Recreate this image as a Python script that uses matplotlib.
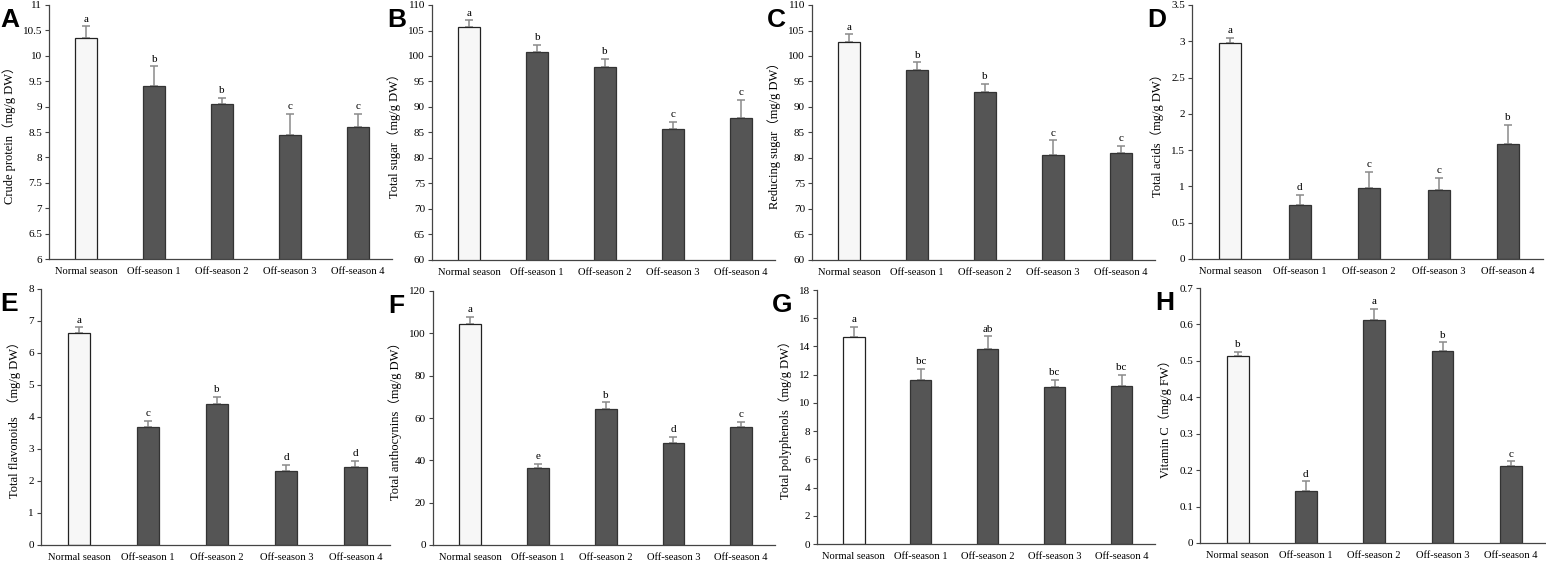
import matplotlib
matplotlib.use("Agg")
import matplotlib.pyplot as plt
import numpy as np

plt.rcParams["font.family"] = ["Liberation Serif", "Noto Sans CJK SC"]
plt.rcParams["axes.unicode_minus"] = False

categories = ["Normal season", "Off-season 1", "Off-season 2", "Off-season 3", "Off-season 4"]

crude_protein = [10.36, 9.41, 9.05, 8.44, 8.59]
crude_protein_err = [0.22, 0.38, 0.12, 0.42, 0.27]
crude_protein_sig = ["a", "b", "b", "c", "c"]

total_sugar = [105.6, 100.7, 97.8, 85.6, 87.9]
total_sugar_err = [1.4, 1.45, 1.65, 1.55, 3.5]
total_sugar_sig = ["a", "b", "b", "c", "c"]

reducing_sugar = [102.7, 97.25, 92.9, 80.65, 80.9]
reducing_sugar_err = [1.55, 1.5, 1.7, 2.8, 1.5]
reducing_sugar_sig = ["a", "b", "b", "c", "c"]

total_acids = [2.97, 0.74, 0.98, 0.95, 1.58]
total_acids_err = [0.08, 0.14, 0.22, 0.17, 0.27]
total_acids_sig = ["a", "d", "c", "c", "b"]

total_flavonoids = [6.63, 3.69, 4.41, 2.30, 2.44]
total_flavonoids_err = [0.17, 0.2, 0.22, 0.2, 0.19]
total_flavonoids_sig = ["a", "c", "b", "d", "d"]

total_anthocyanins = [104.6, 36.4, 64.25, 48.2, 55.75]
total_anthocyanins_err = [3.3, 1.9, 3.15, 2.8, 2.4]
total_anthocyanins_sig = ["a", "e", "b", "d", "c"]

total_polyphenols = [14.64, 11.65, 13.81, 11.13, 11.22]
total_polyphenols_err = [0.75, 0.75, 0.9, 0.52, 0.75]
total_polyphenols_sig = ["a", "bc", "ab", "bc", "bc"]

vitamin_c = [0.512, 0.144, 0.613, 0.527, 0.212]
vitamin_c_err = [0.013, 0.025, 0.03, 0.024, 0.012]
vitamin_c_sig = ["b", "d", "a", "b", "c"]

W, H = 1546, 565

# (letter, ylabel, values, errs, sig, ylim, ystep, axes box px: left, right, top, bottom, normal fill)
panels = [
    ("A", "Crude protein（mg/g DW）", crude_protein, crude_protein_err, crude_protein_sig,
     (6, 11), 0.5, (49, 392, 5, 259), "#f7f7f7"),
    ("B", "Total sugar（mg/g DW）", total_sugar, total_sugar_err, total_sugar_sig,
     (60, 110), 5, (432, 775, 5, 260), "#f7f7f7"),
    ("C", "Reducing sugar（mg/g DW）", reducing_sugar, reducing_sugar_err, reducing_sugar_sig,
     (60, 110), 5, (812, 1155, 5, 260), "#f7f7f7"),
    ("D", "Total acids（mg/g DW）", total_acids, total_acids_err, total_acids_sig,
     (0, 3.5), 0.5, (1192, 1543, 5, 259), "#f7f7f7"),
    ("E", "Total flavonoids  （mg/g DW）", total_flavonoids, total_flavonoids_err, total_flavonoids_sig,
     (0, 8), 1, (41, 390, 289, 545), "#f7f7f7"),
    ("F", "Total anthocynins（mg/g DW）", total_anthocyanins, total_anthocyanins_err, total_anthocyanins_sig,
     (0, 120), 20, (433, 775, 291, 545), "#f7f7f7"),
    ("G", "Total polyphenols（mg/g DW）", total_polyphenols, total_polyphenols_err, total_polyphenols_sig,
     (0, 18), 2, (817, 1155, 290, 544), "#ffffff"),
    ("H", "Vitamin C（mg/g FW）", vitamin_c, vitamin_c_err, vitamin_c_sig,
     (0, 0.7), 0.1, (1200, 1545, 288, 543), "#f7f7f7"),
]


def fmt_tick(v):
    return f"{v:.2f}".rstrip("0").rstrip(".")


def draw_panel(fig, letter, ylabel, values, errs, sig, ylim, ystep, box, normal_fill):
    left, right, top, bottom = box
    ax = fig.add_axes([left / W, 1 - bottom / H, (right - left) / W, (bottom - top) / H])
    x = np.arange(len(categories))
    colors = [normal_fill] + ["#555555"] * (len(categories) - 1)
    edges = ["#222222"] + ["#333333"] * (len(categories) - 1)
    ax.bar(x, values, width=0.32, color=colors, edgecolor=edges, linewidth=0.9, zorder=2)
    ax.errorbar(x, values, yerr=[np.zeros(len(values)), errs], fmt="none",
                ecolor="#8a8a8a", elinewidth=1.1, capsize=3, capthick=1.1, zorder=1)
    for xi, v, e, s in zip(x, values, errs, sig):
        ax.annotate(s, (xi, v + e), xytext=(0, 2), textcoords="offset points",
                    ha="center", va="bottom", fontsize=8)

    ax.set_xlim(-0.55, 4.5)
    ax.set_ylim(*ylim)
    ticks = np.arange(ylim[0], ylim[1] + ystep / 2, ystep)
    ax.set_yticks(ticks)
    ax.set_yticklabels([fmt_tick(t) for t in ticks])
    ax.set_xticks(x)
    ax.set_xticklabels(categories)
    ax.tick_params(axis="y", direction="out", length=3, width=0.8, labelsize=8, pad=2, color="#444444")
    ax.tick_params(axis="x", length=0, labelsize=7.6, pad=6)
    for side in ["top", "right"]:
        ax.spines[side].set_visible(False)
    for side in ["left", "bottom"]:
        ax.spines[side].set_color("#444444")
        ax.spines[side].set_linewidth(0.9)
    ax.set_ylabel(ylabel, fontsize=9, labelpad=5)

    fig.text((left - 45) / W if letter not in ("A", "E") else 0.0, 1 - (top + 3) / H, letter,
             fontsize=19, fontweight="bold", family="Liberation Sans", ha="left", va="top")
    return ax


def main():
    fig = plt.figure(figsize=(W / 100, H / 100), dpi=100)
    for p in panels:
        draw_panel(fig, *p)
    fig.savefig("out.png", dpi=100)
    plt.close(fig)


if __name__ == "__main__":
    main()
